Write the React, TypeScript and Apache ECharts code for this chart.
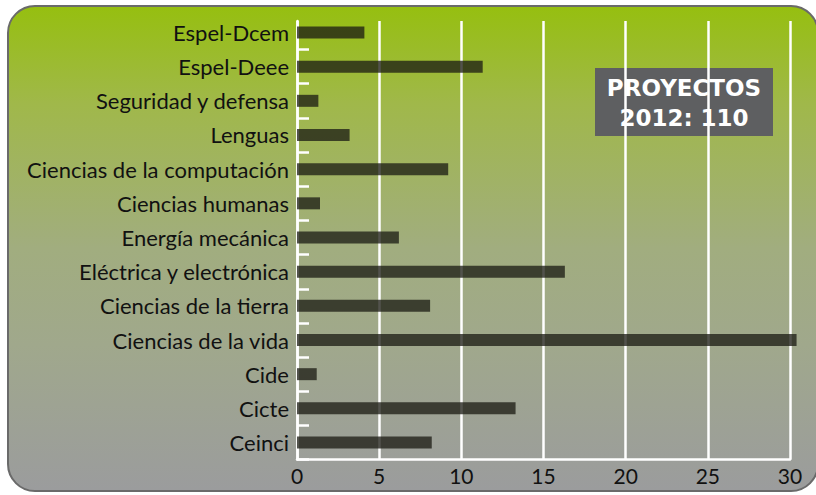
import React, { useEffect, useRef } from "react";
import * as echarts from "echarts";

const categories = [
  "Espel-Dcem",
  "Espel-Deee",
  "Seguridad y defensa",
  "Lenguas",
  "Ciencias de la computación",
  "Ciencias humanas",
  "Energía mecánica",
  "Eléctrica y electrónica",
  "Ciencias de la tierra",
  "Ciencias de la vida",
  "Cide",
  "Cicte",
  "Ceinci",
];
const values = [4.1, 11.3, 1.3, 3.2, 9.2, 1.4, 6.2, 16.3, 8.1, 30.4, 1.2, 13.3, 8.2];
const xTicks = { min: 0, max: 30, interval: 5 };
const boxLines = ["PROYECTOS", "2012: 110"];

export default function App() {
  const ref = useRef<HTMLDivElement>(null);
  useEffect(() => {
    if (!ref.current) return;
    const chart = echarts.init(ref.current, undefined, { renderer: "svg" });
    const font = "Lato";
    chart.setOption({
      animation: false,
      grid: [
        { left: 297, right: 26, top: 15.4, bottom: 35.4 },
        { left: 297, right: 26, top: 21, bottom: 35.4 },
      ],
      xAxis: [
        { gridIndex: 0, type: "value", ...xTicks, show: false },
        {
          gridIndex: 1,
          type: "value",
          ...xTicks,
          axisLine: { show: true, lineStyle: { color: "#ffffff", width: 2.5 } },
          axisTick: { show: false },
          splitLine: { show: true, lineStyle: { color: "#ffffff", width: 2.5 } },
          axisLabel: { color: "#111111", fontSize: 21, fontFamily: font, margin: 5 },
        },
      ],
      yAxis: [
        {
          gridIndex: 0,
          type: "category",
          inverse: true,
          data: categories,
          axisLine: { show: false },
          axisTick: {
            show: true,
            inside: true,
            length: 12,
            interval: (i: number) => i !== 0,
            lineStyle: { color: "#ffffff", width: 2.5 },
          },
          axisLabel: { color: "#111111", fontSize: 22, fontFamily: font, margin: 8 },
          splitLine: { show: false },
        },
        {
          gridIndex: 1,
          type: "value",
          axisLine: { show: true, lineStyle: { color: "#ffffff", width: 2.5 } },
          axisTick: { show: false },
          axisLabel: { show: false },
          splitLine: { show: false },
        },
      ],
      series: [
        {
          type: "bar",
          xAxisIndex: 0,
          yAxisIndex: 0,
          data: values,
          barWidth: 12,
          clip: false,
          z: 10,
          itemStyle: { color: "rgba(28,28,20,0.76)" },
        },
      ],
      graphic: [
        {
          type: "group",
          z: 100,
          children: [
            {
              type: "rect",
              shape: { x: 595, y: 68, width: 178, height: 68 },
              style: { fill: "#5e5f61" },
            },
            {
              type: "text",
              x: 684,
              y: 103,
              style: {
                text: boxLines.join("\n"),
                fill: "#ffffff",
                font: 'bold 23px "DejaVu Sans"',
                lineHeight: 30,
                textAlign: "center",
                textVerticalAlign: "middle",
              },
            },
          ],
        },
      ],
    });
    return () => chart.dispose();
  }, []);
  return (
    <div style={{ position: "absolute", left: 0, top: 0, width: 816, height: 495, overflow: "hidden" }}>
      <div
        style={{
          position: "absolute",
          left: 7,
          top: 5,
          width: 812,
          height: 487,
          boxSizing: "border-box",
          border: "2px solid #6a6a6a",
          borderRadius: 28,
          background:
            "linear-gradient(to bottom, #96bf10 0%, #a0b84a 20%, #a1ad7f 50%, #a0a88c 70%, #9b9c9d 100%)",
        }}
      />
      <div ref={ref} style={{ position: "absolute", left: 0, top: 0, width: 816, height: 495 }} />
    </div>
  );
}
